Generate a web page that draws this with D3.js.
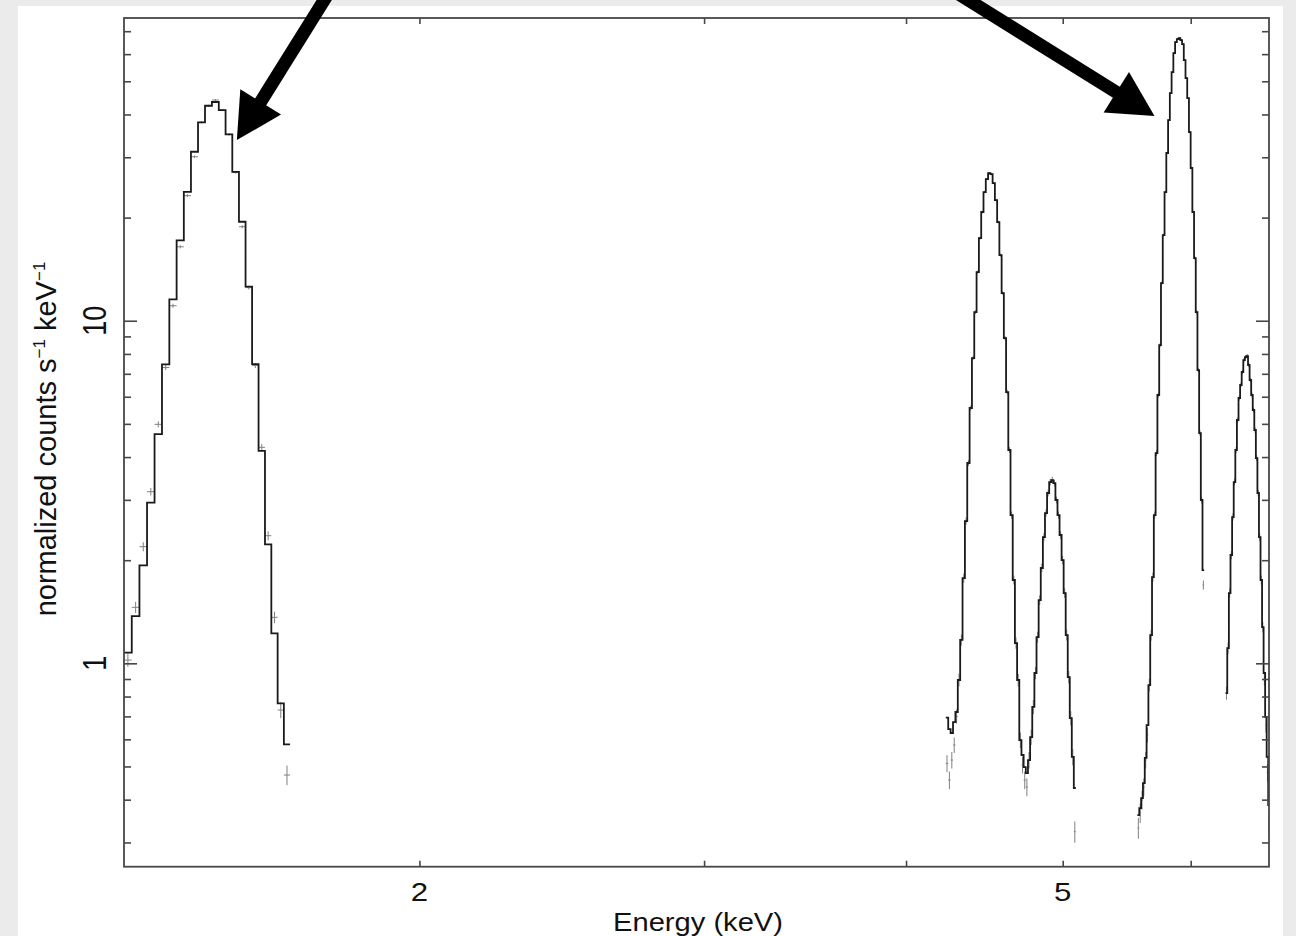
<!DOCTYPE html>
<html><head><meta charset="utf-8">
<script src="https://cdn.jsdelivr.net/npm/d3@7"></script>
<style>
html,body{margin:0;padding:0;background:#ebebeb;}
svg{display:block;}
text{font-family:"Liberation Sans", Arial, Helvetica, sans-serif; fill:#111;}
</style></head><body>
<svg id="chart" width="1296" height="936"></svg>
<script>
// ---------------- DATA ----------------
const binWidth = 0.0146; // keV, channel grouping width

// Al K line region
const alEnergy = [1.313,1.3276,1.3422,1.3568,1.3714,1.386,1.4006,1.4152,1.4298,1.4444,1.459,1.4736,1.4882,1.5028,1.5174,1.532,1.5466,1.5612,1.5758,1.5904,1.605,1.6196,1.6342,1.6488];
const alModel  = [1.074,1.374,1.932,2.943,4.67,7.46,11.55,17.17,23.79,31.14,37.95,42.42,43.5,41.2,35.0,27.2,19.45,12.57,7.47,4.17,2.225,1.223,0.764,0.58];
const alData   = [1.022,1.457,2.19,3.169,4.985,7.3,11.06,16.44,23.17,30.11,37.95,42.42,44.08,41.2,35.0,27.12,18.81,12.49,7.4,4.271,2.358,1.362,0.7306,0.472];
const alErr    = [0.045,0.055,0.067,0.08,0.1,0.12,0.15,0.18,0.22,0.25,0.28,0.29,0.3,0.29,0.27,0.24,0.2,0.16,0.12,0.095,0.07,0.053,0.039,0.031];

// Ti K alpha / K beta region
const tiEnergy = [4.233,4.2476,4.2622,4.2768,4.2914,4.306,4.3206,4.3352,4.3498,4.3644,4.379,4.3936,4.4082,4.4228,4.4374,4.452,4.4666,4.4812,4.4958,4.5104,4.525,4.5396,4.5542,4.5688,4.5834,4.598,4.6126,4.6272,4.6418,4.6564,4.671,4.6856,4.7002,4.7148,4.7294,4.744,4.7586,4.7732,4.7878,4.8024,4.817,4.8316,4.8462,4.8608,4.8754,4.89,4.9046,4.9192,4.9338,4.9484,4.963,4.9776,4.9922,5.0068,5.0214,5.036,5.0506,5.0652,5.0798];
const tiModel  = [0.694,0.643,0.626,0.674,0.721,0.894,1.17,1.774,2.602,3.843,5.563,7.783,10.6,13.87,17.43,20.77,23.75,25.92,26.98,26.8,25.22,22.5,19.41,15.55,12.04,8.9,6.19,4.194,2.709,1.751,1.146,0.894,0.597,0.54,0.498,0.478,0.522,0.609,0.746,0.937,1.193,1.53,1.898,2.337,2.746,3.142,3.382,3.428,3.359,2.997,2.709,2.369,2.002,1.604,1.209,0.912,0.692,0.533,0.4326];
const tiData   = [0.5105,0.4563,0.522,0.5775,0.70,0.894,1.17,1.774,2.602,3.843,5.563,7.783,10.6,13.87,17.43,20.77,23.75,25.92,26.98,26.8,25.22,22.5,19.41,15.55,12.04,8.9,6.19,4.194,2.709,1.751,1.146,0.894,0.597,0.505,0.4563,0.4355,0.522,0.609,0.746,0.937,1.193,1.53,1.898,2.337,2.746,3.142,3.382,3.428,3.359,2.997,2.709,2.369,2.002,1.604,1.209,0.912,0.692,0.533,0.3225];
const tiErr    = [0.029,0.027,0.029,0.03,0.033,0.038,0.043,0.053,0.065,0.078,0.094,0.11,0.13,0.15,0.17,0.18,0.19,0.2,0.21,0.21,0.2,0.19,0.18,0.16,0.14,0.12,0.1,0.082,0.066,0.053,0.043,0.038,0.031,0.028,0.027,0.026,0.029,0.031,0.035,0.039,0.044,0.049,0.055,0.061,0.066,0.071,0.074,0.074,0.073,0.069,0.066,0.062,0.057,0.051,0.044,0.038,0.033,0.029,0.023];

// Mn K alpha region
const mnaEnergy = [5.5616,5.5762,5.5908,5.6054,5.62,5.6346,5.6492,5.6638,5.6784,5.693,5.7076,5.7222,5.7368,5.7514,5.766,5.7806,5.7952,5.8098,5.8244,5.839,5.8536,5.8682,5.8828,5.8974,5.912,5.9266,5.9412,5.9558,5.9704,5.985,5.9996,6.0142,6.0288,6.0434,6.058,6.0726,6.0872,6.1018];
const mnaModel  = [0.3607,0.3781,0.4044,0.4472,0.5294,0.6605,0.8643,1.209,1.786,2.709,4.11,6.07,8.492,12.88,17.79,23.75,30.87,38.53,46.19,53.19,60.44,65.08,66.41,66.86,65.96,64.21,57.67,51.09,44.67,35.54,27.91,20.77,15.24,10.6,7.179,4.7,2.997,1.872];
const mnaData   = [0.3306,0.3656,0.3991,0.4355,0.522,0.6178,0.8643,1.209,1.786,2.709,4.11,6.07,8.492,12.88,17.79,23.75,30.87,38.53,46.19,53.19,60.44,65.08,66.41,66.86,65.96,64.21,57.67,51.09,44.67,35.54,27.91,20.77,15.24,10.6,7.179,4.7,2.997,1.693];
const mnaErr    = [0.023,0.024,0.025,0.026,0.029,0.031,0.037,0.044,0.053,0.066,0.081,0.099,0.12,0.14,0.17,0.19,0.22,0.25,0.27,0.29,0.31,0.32,0.33,0.33,0.32,0.32,0.3,0.29,0.27,0.24,0.21,0.18,0.16,0.13,0.11,0.087,0.069,0.052];

// Mn K beta region
const mnbEnergy = [6.3062,6.3208,6.3354,6.35,6.3646,6.3792,6.3938,6.4084,6.423,6.4376,6.4522,6.4668,6.4814,6.496,6.5106,6.5252,6.5398,6.5544,6.569,6.5836,6.5982,6.6128,6.6274,6.642,6.6566,6.6712,6.6858,6.7004];
const mnbModel  = [0.819,1.108,1.604,2.071,2.673,3.382,4.194,5.131,5.949,6.493,7.085,7.679,7.835,7.888,7.427,6.714,6.07,5.489,4.798,3.974,3.142,2.337,1.751,1.276,0.937,0.697,0.533,0.3858];
const mnbData   = [0.819,1.108,1.604,2.071,2.673,3.382,4.194,5.131,5.949,6.493,7.085,7.679,7.835,7.888,7.427,6.714,6.07,5.489,4.798,3.974,3.142,2.337,1.751,1.276,0.90,0.66,0.48,0.34];
const mnbErr    = [0.036,0.042,0.051,0.058,0.065,0.074,0.082,0.091,0.098,0.1,0.11,0.11,0.11,0.11,0.11,0.1,0.099,0.094,0.088,0.08,0.071,0.061,0.053,0.045,0.038,0.032,0.028,0.023];

const xDomain = [1.313, 6.708];
const yDomain = [0.2549, 76.5];
const xTickLabels = [2, 5];
const xTickMinor = [3, 4, 6];
const yTickLabels = [1, 10];
const yTickMinor = [0.3,0.4,0.5,0.6,0.7,0.8,0.9,2,3,4,5,6,7,8,9,20,30,40,50,60,70];
const xTitle = "Energy (keV)";
const yTitleParts = [["normalized counts s", false], ["\u22121", true], [" keV", false], ["\u22121", true]];
// annotation arrows: [energy, counts] start -> tip
const arrowStarts = [[1.7618, 92.3], [4.2725, 92.3]];
const arrowTips   = [[1.542, 33.69], [5.6985, 39.58]];

// ---------------- DRAW ----------------
const svg = d3.select("#chart");
const W = 1296, H = 936;
const L = 124, R = 1269, T = 18, B = 866.7;

svg.append("rect").attr("x",0).attr("y",0).attr("width",W).attr("height",H).attr("fill","#ebebeb");
svg.append("rect").attr("x",18).attr("y",6).attr("width",1265).attr("height",H-6).attr("fill","#ffffff");

const x = d3.scaleLog().domain(xDomain).range([L, R]);
const y = d3.scaleLog().domain(yDomain).range([B, T]);

svg.append("clipPath").attr("id","plotclip").append("rect")
  .attr("x",L).attr("y",T).attr("width",R-L).attr("height",B-T);

const plot = svg.append("g").attr("clip-path","url(#plotclip)");

const segments = [
  {e: alEnergy, m: alModel, d: alData, s: alErr},
  {e: tiEnergy, m: tiModel, d: tiData, s: tiErr},
  {e: mnaEnergy, m: mnaModel, d: mnaData, s: mnaErr},
  {e: mnbEnergy, m: mnbModel, d: mnbData, s: mnbErr}
];

// data crosses
segments.forEach(seg => {
  const g = plot.append("g").attr("stroke","#808080").attr("stroke-width",1).attr("fill","none");
  seg.e.forEach((e,i) => {
    const v = seg.d[i], er = seg.s[i];
    g.append("line").attr("x1",x(e)).attr("x2",x(e+binWidth)).attr("y1",y(v)).attr("y2",y(v));
    g.append("line").attr("x1",x(e+binWidth/2)).attr("x2",x(e+binWidth/2)).attr("y1",y(v-er)).attr("y2",y(v+er));
  });
});

// model step lines
const line = d3.line().x(d => x(d[0])).y(d => y(d[1]));
segments.forEach(seg => {
  const pts = [];
  seg.e.forEach((e,i) => { pts.push([e, seg.m[i]]); pts.push([e+binWidth, seg.m[i]]); });
  plot.append("path").attr("d", line(pts)).attr("fill","none")
    .attr("stroke","#1a1a1a").attr("stroke-width",1.8).attr("stroke-linejoin","miter");
});

// axes frame + ticks
const axisColor = "#474747";
function styleAxis(g){
  g.select(".domain").remove();
  g.selectAll(".tick line").attr("stroke",axisColor).attr("stroke-width",1.6);
  g.selectAll(".tick text").remove();
}
const allX = xTickLabels.concat(xTickMinor);
svg.append("g").attr("transform",`translate(0,${B})`)
  .call(d3.axisBottom(x).tickValues(allX).tickSize(-6)).call(styleAxis);
svg.append("g").attr("transform",`translate(0,${T})`)
  .call(d3.axisTop(x).tickValues(allX).tickSize(-6)).call(styleAxis);
svg.append("g").attr("transform",`translate(${L},0)`)
  .call(d3.axisLeft(y).tickValues(yTickMinor).tickSize(-7)).call(styleAxis);
svg.append("g").attr("transform",`translate(${L},0)`)
  .call(d3.axisLeft(y).tickValues(yTickLabels).tickSize(-13)).call(styleAxis);
svg.append("g").attr("transform",`translate(${R},0)`)
  .call(d3.axisRight(y).tickValues(yTickMinor).tickSize(-7)).call(styleAxis);
svg.append("g").attr("transform",`translate(${R},0)`)
  .call(d3.axisRight(y).tickValues(yTickLabels).tickSize(-13)).call(styleAxis);

svg.append("rect").attr("x",L).attr("y",T).attr("width",R-L).attr("height",B-T)
  .attr("fill","none").attr("stroke",axisColor).attr("stroke-width",1.8);

// tick labels
xTickLabels.forEach(v => {
  svg.append("text").attr("transform",`translate(${x(v)},901) scale(1.25,1)`)
    .attr("text-anchor","middle").attr("font-size",25).text(v);
});
yTickLabels.forEach(v => {
  svg.append("text").attr("transform",`translate(106,${y(v)}) scale(1.2,1) rotate(-90)`)
    .attr("text-anchor","middle").attr("font-size",27).text(v);
});

// axis titles
svg.append("text").attr("x",698).attr("y",931).attr("text-anchor","middle")
  .attr("font-size",26).attr("textLength",170).attr("lengthAdjust","spacingAndGlyphs").text(xTitle);

const yt = svg.append("text").attr("transform","translate(56,439) rotate(-90)")
  .attr("text-anchor","middle").attr("font-size",29);
yTitleParts.forEach(([t, sup]) => {
  const ts = yt.append("tspan").text(t);
  if (sup) ts.attr("font-size",17).attr("dy",-11);
  else ts.attr("dy", 11);
});
yt.select("tspan").attr("dy",0);

// arrows
arrowStarts.forEach((s,i) => {
  const t = arrowTips[i];
  const x0 = x(s[0]), y0 = y(s[1]), x1 = x(t[0]), y1 = y(t[1]);
  const len = Math.hypot(x1-x0, y1-y0), ux = (x1-x0)/len, uy = (y1-y0)/len;
  const headLen = 45, headHalf = 24;
  const bx = x1 - ux*headLen, by = y1 - uy*headLen;
  svg.append("line").attr("x1",x0).attr("y1",y0).attr("x2",bx+ux*2).attr("y2",by+uy*2)
    .attr("stroke","#000").attr("stroke-width",13);
  svg.append("polygon").attr("fill","#000")
    .attr("points", [[x1,y1],[bx - uy*headHalf, by + ux*headHalf],[bx + uy*headHalf, by - ux*headHalf]].map(p=>p.join(",")).join(" "));
});
</script>
</body></html>
